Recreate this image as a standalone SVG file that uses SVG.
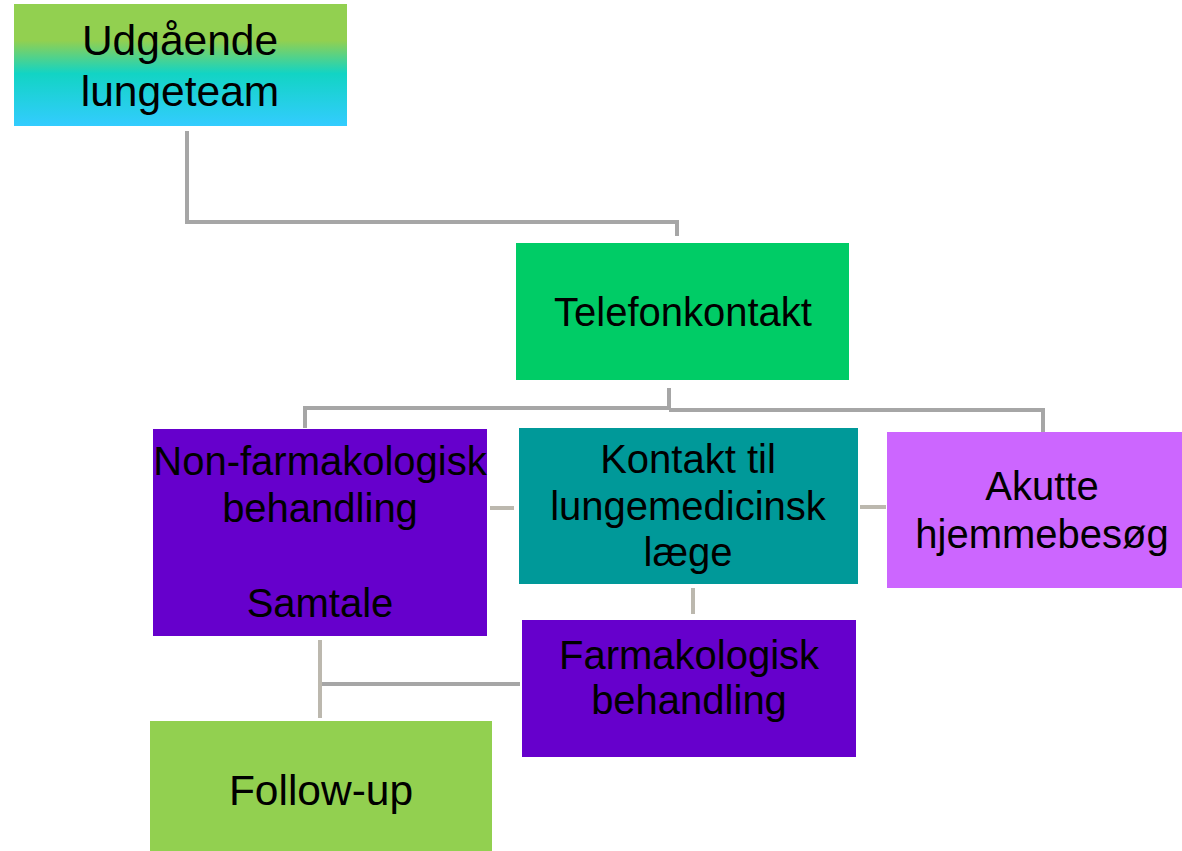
<svg xmlns="http://www.w3.org/2000/svg" width="1182" height="851" viewBox="0 0 1182 851">
<defs>
<linearGradient id="g1" x1="0" y1="0" x2="0" y2="1">
<stop offset="0" stop-color="#92D050"/>
<stop offset="0.3" stop-color="#92D050"/>
<stop offset="0.57" stop-color="#12D4C4"/>
<stop offset="1" stop-color="#33CCFF"/>
</linearGradient>
</defs>
<style>
text{font-family:"Liberation Sans",Arial,sans-serif;font-size:40px;fill:#000;text-anchor:middle}
.big{font-size:42.5px}
.c{fill:none;stroke:#A6A6A6;stroke-width:4}
.b{fill:none;stroke:#BCB8AE;stroke-width:4}
</style>
<rect width="1182" height="851" fill="#fff"/>
<g id="connectors">
<polyline class="c" points="187,131 187,222 677,222 677,236"/>
<polyline class="c" points="669,388 669,408 305,408 305,428"/>
<polyline class="c" points="669,410 1043,410 1043,432"/>
<line class="b" x1="490" y1="508" x2="514" y2="508"/>
<line class="b" x1="860" y1="507" x2="886" y2="507"/>
<line class="b" x1="693" y1="588" x2="693" y2="614"/>
<line class="b" x1="320" y1="640" x2="320" y2="718"/>
<line class="c" x1="322" y1="684" x2="520" y2="684"/>
</g>
<g id="n1">
<rect x="14" y="4" width="333" height="122" fill="url(#g1)"/>
<text class="big" x="180" y="55">Udgående</text>
<text class="big" x="180" y="106">lungeteam</text>
</g>
<g id="n2">
<rect x="516" y="243" width="333" height="137" fill="#00CC66"/>
<text x="683" y="326">Telefonkontakt</text>
</g>
<g id="n3">
<rect x="153" y="429" width="334" height="207" fill="#6600CC"/>
<text x="320" y="475">Non-farmakologisk</text>
<text x="320" y="522">behandling</text>
<text x="320" y="617">Samtale</text>
</g>
<g id="n4">
<rect x="519" y="428" width="339" height="156" fill="#009999"/>
<text x="688" y="473">Kontakt til</text>
<text x="688" y="520">lungemedicinsk</text>
<text x="688" y="566">læge</text>
</g>
<g id="n5">
<rect x="887" y="432" width="295" height="156" fill="#CC66FF"/>
<text x="1042" y="500">Akutte</text>
<text x="1042" y="548">hjemmebesøg</text>
</g>
<g id="n6">
<rect x="522" y="620" width="334" height="137" fill="#6600CC"/>
<text x="689" y="669">Farmakologisk</text>
<text x="689" y="714">behandling</text>
</g>
<g id="n7">
<rect x="150" y="721" width="342" height="130" fill="#92D050"/>
<text class="big" x="321" y="805">Follow-up</text>
</g>
</svg>
